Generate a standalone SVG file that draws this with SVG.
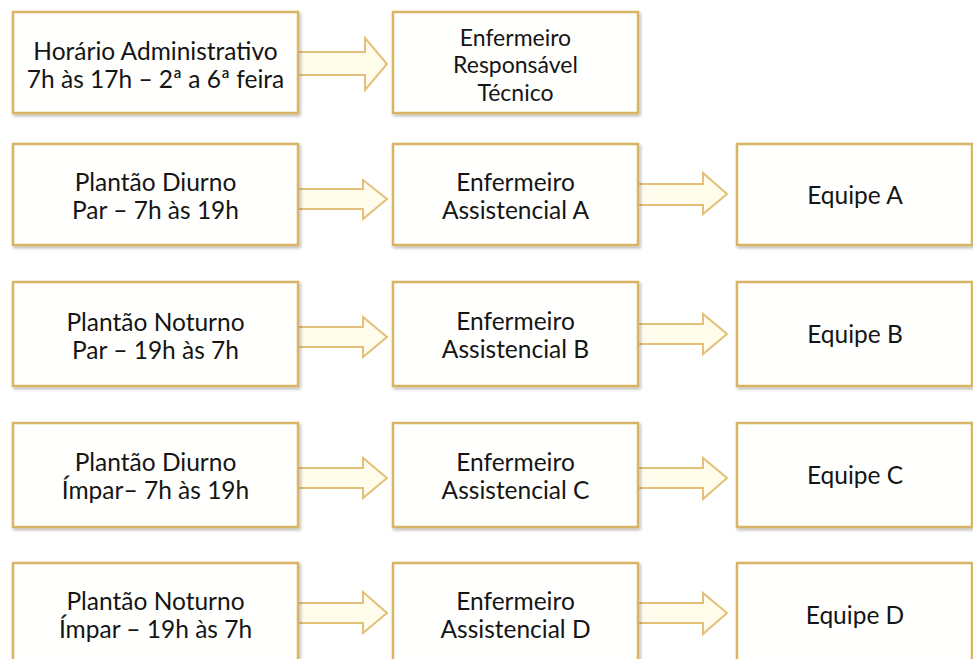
<svg xmlns="http://www.w3.org/2000/svg" width="973" height="659" viewBox="0 0 973 659">
<defs>
<filter id="sh" x="-5%" y="-5%" width="110%" height="115%">
<feDropShadow dx="1.5" dy="2" stdDeviation="1.5" flood-color="#000" flood-opacity="0.28"/>
</filter>
<style>
.box{fill:#fffffd;stroke:#d8b566;stroke-width:2.5;filter:url(#sh)}
.arr{fill:#fffcec;stroke:#e3c07a;stroke-width:2;stroke-linejoin:miter}
text{font-family:Lato,"Open Sans","Liberation Sans",sans-serif;font-size:24.5px;fill:#151515;text-anchor:middle}
text.s{font-size:23px}
</style>
</defs>
<rect width="973" height="659" fill="#ffffff"/>
<g id="connectors">
<path class="arr" d="M298,52 H365 V38 L387,64 L365,90 V75 H298 Z"/>
<path class="arr" d="M298,189 H363 V180 L387,199 L363,219 V209 H298 Z"/>
<path class="arr" d="M638,184 H703 V173 L727,194 L703,214 V205 H638 Z"/>
<path class="arr" d="M298,327 H363 V317 L387,337 L363,357 V347 H298 Z"/>
<path class="arr" d="M638,324 H703 V314 L727,334 L703,354 V344 H638 Z"/>
<path class="arr" d="M298,468 H363 V458 L387,478 L363,498 V488 H298 Z"/>
<path class="arr" d="M638,468 H703 V458 L727,478 L703,499 V488 H638 Z"/>
<path class="arr" d="M298,603 H363 V592 L387,613 L363,633 V623 H298 Z"/>
<path class="arr" d="M638,603 H703 V593 L727,613 L703,634 V623 H638 Z"/>
</g>
<g id="n-horario">
<rect class="box" x="13" y="12" width="285" height="101"/>
<text x="155.5" y="60">Horário Administrativo</text>
<text x="155.5" y="88">7h às 17h – 2ª a 6ª feira</text>
</g>
<g id="n-rt">
<rect class="box" x="393" y="12" width="245" height="101"/>
<text class="s" x="515.5" y="46">Enfermeiro</text>
<text class="s" x="515.5" y="73">Responsável</text>
<text class="s" x="515.5" y="101">Técnico</text>
</g>
<g id="n-diurno-par">
<rect class="box" x="13" y="144" width="285" height="101"/>
<text x="155.5" y="191">Plantão Diurno</text>
<text x="155.5" y="219">Par – 7h às 19h</text>
</g>
<g id="n-assist-a">
<rect class="box" x="393" y="144" width="245" height="101"/>
<text x="515.5" y="191">Enfermeiro</text>
<text x="515.5" y="219">Assistencial A</text>
</g>
<g id="n-equipe-a">
<rect class="box" x="737" y="144" width="235" height="101"/>
<text x="855" y="204">Equipe A</text>
</g>
<g id="n-noturno-par">
<rect class="box" x="13" y="282" width="285" height="104"/>
<text x="155.5" y="331">Plantão Noturno</text>
<text x="155.5" y="359">Par – 19h às 7h</text>
</g>
<g id="n-assist-b">
<rect class="box" x="393" y="282" width="245" height="104"/>
<text x="515.5" y="330">Enfermeiro</text>
<text x="515.5" y="358">Assistencial B</text>
</g>
<g id="n-equipe-b">
<rect class="box" x="737" y="282" width="235" height="104"/>
<text x="855" y="343">Equipe B</text>
</g>
<g id="n-diurno-impar">
<rect class="box" x="13" y="423" width="285" height="104"/>
<text x="155.5" y="471">Plantão Diurno</text>
<text x="155.5" y="499">Ímpar– 7h às 19h</text>
</g>
<g id="n-assist-c">
<rect class="box" x="393" y="423" width="245" height="104"/>
<text x="515.5" y="471">Enfermeiro</text>
<text x="515.5" y="499">Assistencial C</text>
</g>
<g id="n-equipe-c">
<rect class="box" x="737" y="423" width="235" height="104"/>
<text x="855" y="484">Equipe C</text>
</g>
<g id="n-noturno-impar">
<rect class="box" x="13" y="563" width="285" height="104"/>
<text x="155.5" y="610">Plantão Noturno</text>
<text x="155.5" y="638">Ímpar – 19h às 7h</text>
</g>
<g id="n-assist-d">
<rect class="box" x="393" y="563" width="245" height="104"/>
<text x="515.5" y="610">Enfermeiro</text>
<text x="515.5" y="638">Assistencial D</text>
</g>
<g id="n-equipe-d">
<rect class="box" x="737" y="563" width="235" height="104"/>
<text x="855" y="624">Equipe D</text>
</g>
</svg>
